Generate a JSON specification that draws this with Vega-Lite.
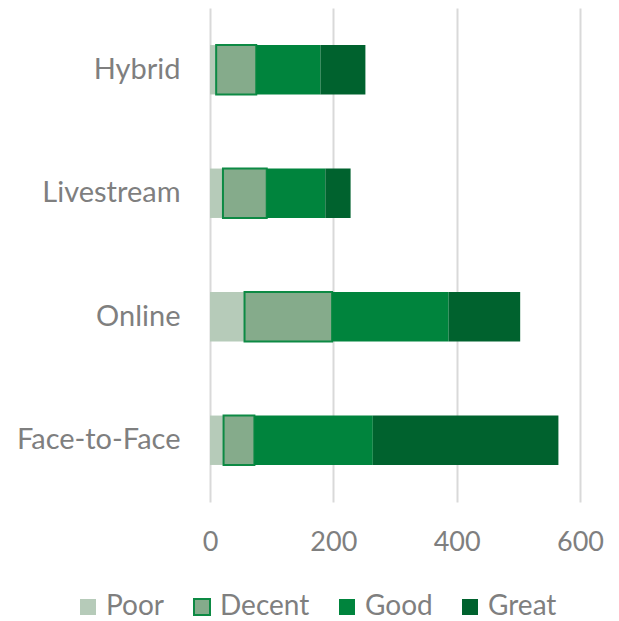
{
  "$schema": "https://vega.github.io/schema/vega-lite/v6.json",
  "width": 370,
  "height": 494,
  "autosize": {"type": "none"},
  "padding": {"left": 210, "top": 8, "right": 39, "bottom": 119},
  "background": "white",
  "data": {"values": [
    {"mode": "Hybrid", "rating": "Poor", "ord": 1, "count": 10},
    {"mode": "Hybrid", "rating": "Decent", "ord": 2, "count": 65},
    {"mode": "Hybrid", "rating": "Good", "ord": 3, "count": 104},
    {"mode": "Hybrid", "rating": "Great", "ord": 4, "count": 73},
    {"mode": "Livestream", "rating": "Poor", "ord": 1, "count": 21},
    {"mode": "Livestream", "rating": "Decent", "ord": 2, "count": 71},
    {"mode": "Livestream", "rating": "Good", "ord": 3, "count": 95},
    {"mode": "Livestream", "rating": "Great", "ord": 4, "count": 41},
    {"mode": "Online", "rating": "Poor", "ord": 1, "count": 56},
    {"mode": "Online", "rating": "Decent", "ord": 2, "count": 142},
    {"mode": "Online", "rating": "Good", "ord": 3, "count": 189},
    {"mode": "Online", "rating": "Great", "ord": 4, "count": 116},
    {"mode": "Face-to-Face", "rating": "Poor", "ord": 1, "count": 22},
    {"mode": "Face-to-Face", "rating": "Decent", "ord": 2, "count": 50},
    {"mode": "Face-to-Face", "rating": "Good", "ord": 3, "count": 192},
    {"mode": "Face-to-Face", "rating": "Great", "ord": 4, "count": 301}
  ]},
  "mark": {"type": "bar", "strokeWidth": 2},
  "encoding": {
    "y": {
      "field": "mode", "type": "nominal",
      "sort": ["Hybrid", "Livestream", "Online", "Face-to-Face"],
      "scale": {"paddingInner": 0.6, "paddingOuter": 0.3},
      "axis": {"title": null, "domain": false, "ticks": false, "labelPadding": 30, "labelFontSize": 29, "labelFont": "Lato", "labelColor": "#7f7f7f", "grid": false}
    },
    "x": {
      "field": "count", "type": "quantitative", "stack": "zero",
      "scale": {"domain": [0, 600], "nice": false},
      "axis": {"title": null, "values": [0, 200, 400, 600], "domain": false, "ticks": false, "labelFlush": false, "labelPadding": 27, "labelFontSize": 27, "labelFont": "Lato", "labelColor": "#7f7f7f", "gridColor": "#d9d9d9", "gridWidth": 2}
    },
    "order": {"field": "ord", "type": "quantitative"},
    "color": {
      "field": "rating", "type": "nominal",
      "sort": ["Poor", "Decent", "Good", "Great"],
      "scale": {"domain": ["Poor", "Decent", "Good", "Great"], "range": ["#b6cbb9", "#85ab8b", "#00843d", "#00622e"]},
      "legend": {"title": null, "orient": "none", "direction": "horizontal", "legendX": -136, "legendY": 585, "symbolType": "square", "symbolSize": 256, "symbolOpacity": 1, "symbolStrokeWidth": 2, "labelFontSize": 28, "labelFont": "Lato", "labelColor": "#7f7f7f", "columnPadding": 23, "labelOffset": 4}
    },
    "stroke": {
      "field": "rating", "type": "nominal",
      "sort": ["Poor", "Decent", "Good", "Great"],
      "scale": {"domain": ["Poor", "Decent", "Good", "Great"], "range": ["transparent", "#0d8a44", "transparent", "transparent"]}
    }
  },
  "config": {"view": {"stroke": null}}
}
